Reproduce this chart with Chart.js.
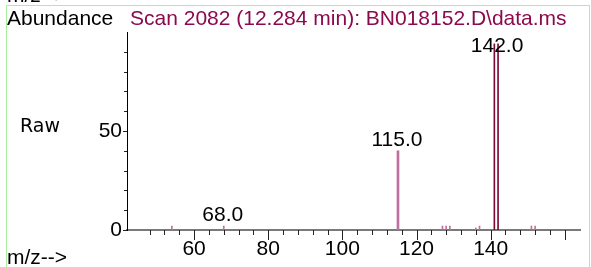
<!DOCTYPE html>
<html>
<head>
<meta charset="utf-8">
<script src="https://cdn.jsdelivr.net/npm/chart.js@4.4.1/dist/chart.umd.min.js"></script>
<style>
  html, body { margin: 0; padding: 0; background: #fff; }
  #wrap { position: relative; width: 591px; height: 267px; }
  #frame { position: absolute; left: 6px; top: 5px; width: 582px; height: 300px; border: 1px solid #a8f0a0; }
  #ms { position: absolute; left: 0; top: 0; }
</style>
</head>
<body>
<div id="wrap">
  <div id="frame"></div>
  <canvas id="ms" width="591" height="267"></canvas>
</div>
<script>
// m/z of each ion and its raw abundance
var mz = [54, 68, 115, 127, 128, 129, 136, 137, 141, 142, 151, 152];
var abundance = [2, 2, 40, 2, 2, 2, 1, 2, 94, 94, 2, 2];
// peaks that carry a label
var labelledPeaks = [68, 115, 142];
// tick values
var xTicks = [];
for (var t = 48; t <= 160; t += 4) xTicks.push(t);
var xTickLabels = [60, 80, 100, 120, 140];
var yTicks = [0, 10, 20, 30, 40, 50, 60, 70, 80, 90];
var yTickLabels = [0, 50];

var title = "Scan 2082 (12.284 min): BN018152.D\\data.ms";
var font = "Liberation Sans, Arial, sans-serif";

// mid-size peaks are drawn a bit wider than the rest
var midPoints = [], thinPoints = [];
for (var i in mz) {
	var p = {x: mz[i], y: abundance[i]};
	if (abundance[i] >= 10 && abundance[i] < 50) midPoints.push(p);
	else thinPoints.push(p);
}

var decor = {
	id: 'decor',
	afterDraw: function(chart) {
		var c = chart.ctx;
		var xs = chart.scales.x, ys = chart.scales.y;
		var area = chart.chartArea;
		c.save();
		// tick marks
		c.strokeStyle = '#222';
		c.lineWidth = 1;
		xTicks.forEach(function(v) {
			var px = Math.round(xs.getPixelForValue(v)) + 0.5;
			var len = (v % 20 === 0) ? 10 : 5;
			c.beginPath();
			c.moveTo(px, area.bottom);
			c.lineTo(px, area.bottom + len);
			c.stroke();
		});
		yTicks.forEach(function(v) {
			var py = Math.round(ys.getPixelForValue(v)) + 0.5;
			var len = (v % 50 === 0) ? 4 : 3;
			c.beginPath();
			c.moveTo(area.left - len, py);
			c.lineTo(area.left, py);
			c.stroke();
		});
		// texts
		c.fillStyle = '#000';
		c.font = '21px ' + font;
		c.textBaseline = 'alphabetic';
		c.textAlign = 'left';
		c.fillText('m/z-->', 7, 2);
		c.fillText('Abundance', 7, 25);
		c.fillText('m/z-->', 7, 264);
		c.fillStyle = '#8b0a4e';
		c.fillText(title, 130, 25);
		c.fillStyle = '#000';
		c.font = '19px DejaVu Sans, sans-serif';
		c.fillText('Raw', 20, 132);
		// peak labels
		c.font = '21px ' + font;
		c.textAlign = 'center';
		chart.data.datasets.forEach(function(ds, d) {
			chart.getDatasetMeta(d).data.forEach(function(bar, k) {
				var m = ds.data[k].x;
				if (labelledPeaks.indexOf(m) < 0) return;
				var y = Math.max(bar.y - 5, area.top + 20);
				c.fillText(m.toFixed(1), bar.x - 1, y);
			});
		});
		c.restore();
	}
};

function barColor(c) {
	var v = c.raw ? c.raw.y : 0;
	return v > 50 ? '#7a0a3a' : '#c0709c';
}

var ctx = document.getElementById('ms');
var spectrum = new Chart(ctx, {
	type: 'bar',
	data: {
		datasets: [
			{ data: midPoints, barThickness: 2, grouped: false, backgroundColor: barColor },
			{ data: thinPoints, barThickness: 1, grouped: false, backgroundColor: barColor }
		]
	},
	options: {
		responsive: false,
		animation: false,
		layout: { padding: { top: 32, right: 11, left: 0, bottom: 0 } },
		plugins: { legend: { display: false }, tooltip: { enabled: false } },
		scales: {
			x: {
				type: 'linear',
				min: 44,
				max: 162,
				afterFit: function(s) { s.height = 37; },
				afterBuildTicks: function(s) {
					s.ticks = xTicks.map(function(v) { return {value: v}; });
				},
				grid: { display: false, drawTicks: false },
				border: { color: '#7a7a7a', width: 2 },
				ticks: {
					autoSkip: false,
					maxRotation: 0,
					padding: 7,
					color: '#000',
					font: { family: font, size: 21 },
					callback: function(v) { return xTickLabels.indexOf(v) >= 0 ? String(v) : ''; }
				}
			},
			y: {
				min: 0,
				max: 100,
				afterFit: function(s) { s.width = 127; },
				afterBuildTicks: function(s) {
					s.ticks = yTicks.map(function(v) { return {value: v}; });
				},
				grid: { display: false, drawTicks: false },
				border: { color: '#000', width: 1 },
				ticks: {
					autoSkip: false,
					padding: 5,
					color: '#000',
					font: { family: font, size: 21 },
					callback: function(v) { return yTickLabels.indexOf(v) >= 0 ? String(v) : ''; }
				}
			}
		}
	},
	plugins: [decor]
});
</script>
</body>
</html>
